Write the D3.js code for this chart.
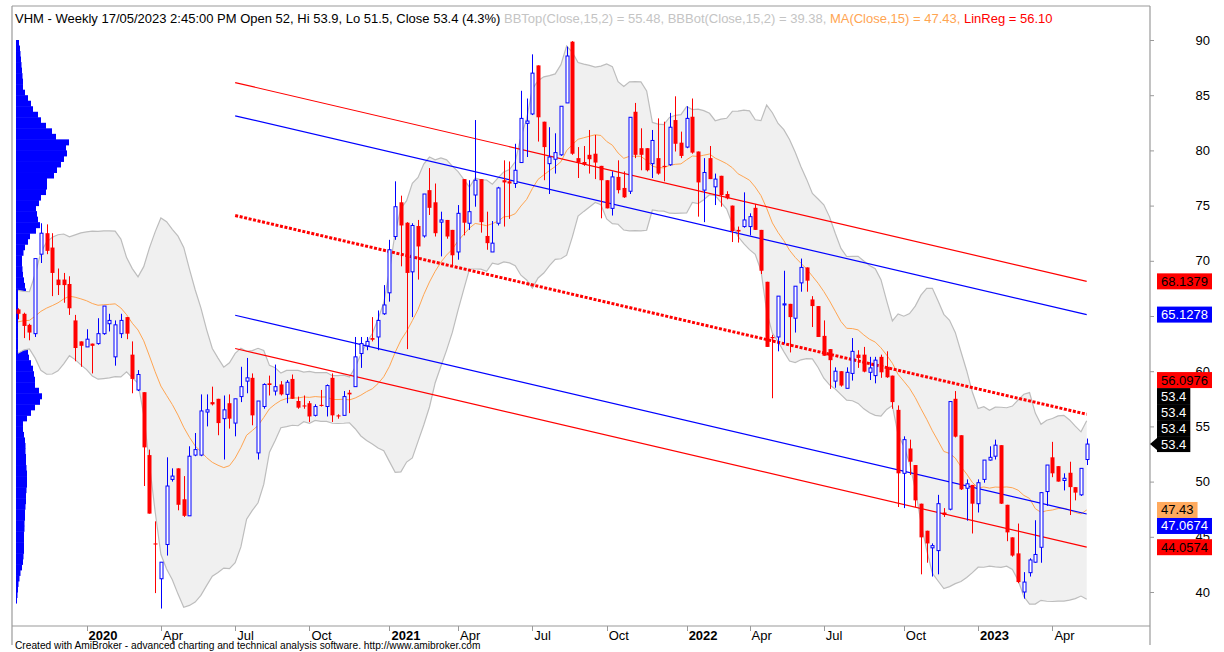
<!DOCTYPE html>
<html>
<head>
<meta charset="utf-8">
<script src="https://cdn.jsdelivr.net/npm/d3@7"></script>
<style>
body { margin: 0; background: #fff; }
svg { display: block; font-family: "Liberation Sans", Arial, sans-serif; }
</style>
</head>
<body>
<script>
var w = 1224, h = 652;
var plotL = 12, plotR = 1150, plotT = 6, plotB = 626;

// weekly VHM bars, Oct 2019 .. 17/05/2023
var open = [65.6,65.2,64.2,63.4,70.6,72.5,71.2,68.3,68.3,67.9,64.6,62.7,62.2,62.5,62.5,63.4,64.3,61.3,63.4,64.9,
  61.5,58.3,58.1,52.4,44.4,41.2,44.3,50.2,51.2,48.4,46.9,52.4,52.4,56.3,57.2,57.5,55.7,57.1,55.3,57.7,
  59.1,59.4,52.6,56.8,58.9,58.2,58.8,57.9,59.3,57.3,56.9,57.1,56.0,56.95,56.8,59.4,56.0,56.0,58.05,58.6,
  61.6,62.3,63.0,63.1,65.2,67.1,72.2,75.3,73.45,69.0,73.15,72.25,76.4,75.3,73.5,73.7,72.8,70.8,77.4,73.4,
  75.96,77.4,72.25,70.8,73.4,77.3,77.2,77.0,78.9,82.45,83.3,87.7,82.6,78.8,79.2,79.6,84.3,89.85,79.3,78.95,
  79.6,79.7,78.6,77.3,74.75,77.6,76.6,76.3,83.5,80.2,80.2,78.8,79.3,78.6,78.7,82.75,80.7,80.3,83.05,79.9,
  76.4,79.3,76.7,77.7,76.05,75.0,72.8,73.1,73.1,74.8,72.8,68.1,63.1,63.1,66.0,66.1,64.8,68.0,69.4,66.5,
  65.9,63.2,62.0,59.1,60.0,58.45,59.8,61.5,61.5,59.9,59.6,61.3,60.4,59.6,56.5,50.75,53.0,51.5,48.0,45.55,
  44.0,43.75,47.2,47.5,57.5,54.2,49.4,49.7,48.0,50.2,51.95,52.3,53.3,47.9,44.95,43.5,40.0,41.75,42.7,44.05,
  49.1,52.2,51.4,50.1,50.8,49.5,48.8,52];
var high = [65.7,65.3,64.3,70.2,73.4,73.3,72.5,69.3,68.9,68.6,65.1,62.7,63.8,62.5,64.8,65.9,65.2,64.6,65.2,64.9,
  62.7,60.1,58.1,52.9,46.4,42.7,52.2,51.2,51.2,50.5,53.2,54.4,57.9,57.9,58.6,57.5,57.8,57.9,57.5,60.4,
  61.2,59.8,57.3,58.9,59.6,60.6,59.1,59.2,59.7,57.7,57.8,57.3,57.0,58.3,58.8,59.8,56.1,58.2,58.3,63.1,
  63.1,63.1,64.9,65.5,67.8,71.9,77.2,75.9,73.5,73.4,73.7,76.05,78.4,77.0,74.45,73.7,72.8,75.05,77.4,77.3,
  82.75,77.4,74.45,73.6,76.7,79.1,79.0,80.6,85.4,84.7,88.7,87.7,82.6,82.1,81.55,84.0,89.4,89.9,80.3,80.4,
  81.85,81.4,78.6,77.3,78.1,79.1,78.1,83.0,84.3,82.0,80.2,81.85,82.9,82.6,83.4,84.9,81.7,84.0,84.7,79.9,
  79.3,80.4,77.9,77.7,76.3,75.0,73.1,76.2,74.3,75.15,72.8,68.1,63.3,66.8,69.1,66.1,67.7,70.2,69.4,66.8,
  65.9,64.6,62.0,60.35,60.0,60.35,63.0,61.9,62.2,61.3,61.3,61.5,61.8,59.6,56.9,54.1,53.8,51.5,48.0,45.55,
  44.4,48.8,47.6,57.3,58.2,54.2,50.2,49.7,50.2,51.95,53.2,53.8,53.3,47.9,44.95,46.2,41.8,43.05,46.5,49.0,
  51.5,53.6,51.4,50.75,51.8,49.5,51.2,53.9];
var low = [64.7,63.0,62.8,63.1,69.8,70.6,66.8,66.9,66.2,65.1,60.9,60.4,62.2,59.8,62.4,63.3,63.6,60.5,63.0,62.9,
  58.0,58.2,49.6,47.1,39.9,38.5,43.3,50.0,47.4,46.8,46.9,52.3,52.3,55.0,56.9,54.2,52.0,54.8,54.1,57.2,
  58.0,55.1,52.0,56.6,57.8,57.8,57.8,57.1,57.5,56.6,56.6,55.4,55.9,56.8,55.9,55.4,55.7,56.0,56.2,58.6,
  60.3,61.9,62.7,61.9,65.1,66.3,71.9,69.5,62.0,64.9,68.3,72.1,74.15,72.2,70.4,72.0,69.6,70.1,72.3,72.8,
  74.9,72.55,71.0,70.8,73.2,73.1,73.8,76.6,78.9,79.4,83.2,80.8,77.3,76.05,77.9,79.5,84.3,79.6,77.5,78.6,
  77.9,77.4,73.85,74.75,74.1,76.1,75.7,76.05,79.3,78.2,78.1,77.5,77.8,77.2,78.6,79.9,79.3,80.2,79.7,74.0,
  73.5,77.4,75.05,74.9,75.57,71.7,71.65,73.0,72.3,72.8,68.8,62.2,57.55,61.8,62.5,61.7,63.5,67.2,67.2,64.0,
  63.1,61.4,58.4,58.5,58.6,58.45,59.15,60.3,59.9,59.2,58.9,59.4,59.4,56.6,47.7,47.6,50.6,47.7,41.6,42.65,
  41.4,41.6,46.8,47.4,54.0,49.24,46.46,45.3,47.2,49.9,51.9,52.0,47.97,44.6,43.2,40.8,39.4,41.4,42.65,42.65,
  47.8,50.4,50.0,49.2,46.97,48.3,48.7,51.5];
var close = [65.2,64.1,63.5,70.2,72.5,70.9,68.9,67.8,67.8,65.7,62.1,62.3,62.9,62.3,63.4,65.9,64.6,64.2,64.6,63.4,
  59.3,59.7,53.1,47.1,44.3,42.7,49.6,50.5,47.9,46.9,52.3,52.9,56.4,56.5,57.0,55.3,56.5,55.7,57.5,58.6,
  59.4,56.0,57.3,58.8,58.75,58.6,57.9,59.0,57.5,56.7,56.8,55.9,56.8,56.85,58.7,56.0,55.9,57.7,57.9,61.3,
  62.5,62.7,62.85,64.6,66.0,71.0,74.9,73.2,68.9,73.2,71.3,76.05,74.8,72.5,73.7,72.2,70.5,74.3,73.45,74.45,
  77.3,73.5,71.6,71.6,76.6,77.1,77.0,78.2,82.9,82.66,87.0,83.0,80.3,79.4,79.8,84.0,88.55,79.7,78.9,78.7,
  79.2,78.9,77.3,74.75,77.6,76.4,75.75,83.0,79.6,79.6,78.2,80.9,77.9,78.5,82.1,80.6,79.5,82.9,79.8,77.1,
  78.0,77.4,77.4,75.96,75.66,72.7,72.65,73.7,74.0,72.8,69.1,62.2,62.98,66.8,66.1,64.9,67.7,69.4,68.2,65.9,
  63.1,61.4,61.0,60.0,58.7,59.9,61.8,61.2,59.96,60.3,61.0,59.9,59.45,57.2,50.75,53.8,51.8,48.3,44.95,44.4,
  44.2,48.0,46.97,57.25,54.07,49.3,49.8,48.0,49.9,51.95,52.2,53.3,48.0,45.4,43.3,40.9,40.9,42.9,43.4,49.0,
  51.5,50.75,50.0,50.3,49.5,49.0,51.2,53.4];
// closes of the 14 weeks before the first bar (estimated from the band at the left edge)
var warmupClose = [62.5,63.0,64.5,66.0,66.5,65.5,64.0,62.5,62.0,63.5,64.5,65.5,66.0,65.8];

var tickBar = [12,25,38,51,65,77,90,103,117,128,141,155,168,181];
var tickLabel = ["2020","Apr","Jul","Oct","2021","Apr","Jul","Oct","2022","Apr","Jul","Oct","2023","Apr"];
var priceTicks = [40,45,50,55,60,65,70,75,80,85,90];

// linear regression channel
var regBars = [38, 187];
var regMid = [74.1, 56.0976];
var regBand = [-12.0403, -9.0302, 0, 9.0302, 12.0403];
var regColor = ["#ff0000", "#0000ff", "#ff0000", "#0000ff", "#ff0000"];

// volume at price, 0.5 bins from 39.0 up
var profileBase = 39, profileStep = 0.5;
var profileVol = [1,1.5,2,2.5,3.5,4.5,6,7,7.5,8,8,8,8,8.5,8.5,9,9,9.5,10,10,10.5,11,11,11,10.5,10,10,9.5,9.5,9,
  8,7,7,11,15,19,24,26,23,19,19,18,17,15,13,12,12,13,13,14,14,13,13,12,11,10,10,9,8,7,
  6.5,6,6,7.5,9,12,14,20,24,22,21,20,23,25,30,31,31,38,41,45,48,51,50,53,40,36,30,25,22,17,
  15,12,9,7,7,6.5,6,5.5,5,4.5,4,3];

// price tags on the axis
var tagValue = [53.4,53.4,53.4,53.4,68.1379,65.1278,47.43,44.0574,56.0976,47.0674];
var tagKind = ["close","close","close","close","red","blue","ma","red","red","blue"];
var tagFill = {close: "#000000", red: "#ff0000", blue: "#0000ff", ma: "#ffaa5e"};
var tagInk = {close: "#ffffff", red: "#000000", blue: "#ffffff", ma: "#000000"};

var x = d3.scaleLinear().domain([0, 187]).range([18, 1086.7]);
var y = d3.scaleLinear().domain([36.92, 93.08]).range([plotB, plotT]);
var pw = d3.scaleLinear().domain([0, 60]).range([0, 60]);

var svg = d3.select("body").append("svg").attr("width", w).attr("height", h);

svg.append("clipPath").attr("id", "plot")
  .append("rect").attr("x", plotL).attr("y", plotT).attr("width", plotR - plotL).attr("height", plotB - plotT);

var g = svg.append("g").attr("clip-path", "url(#plot)");

// bollinger + MA
var all = warmupClose.concat(close);
var n0 = warmupClose.length;
var ma = [], bbTop = [], bbBot = [];
close.forEach(function(c, i) {
  var win = all.slice(i + n0 - 14, i + n0 + 1);
  var m = d3.mean(win);
  var sd = Math.sqrt(d3.mean(win, function(v) { return (v - m) * (v - m); }));
  ma.push(m); bbTop.push(m + 2 * sd); bbBot.push(m - 2 * sd);
});

// profile
g.append("g").selectAll("rect")
  .data(profileVol)
  .enter().append("rect")
  .attr("x", 16)
  .attr("y", function(d, i) { return y(profileBase + (i + 1) * profileStep); })
  .attr("width", function(d) { return pw(d); })
  .attr("height", function(d, i) { return y(profileBase + i * profileStep) - y(profileBase + (i + 1) * profileStep) + 0.5; })
  .attr("fill", "#0000ff");

var idx = d3.range(close.length);
g.append("path")
  .attr("d", d3.area().x(function(i) { return x(i); }).y0(function(i) { return y(bbBot[i]); }).y1(function(i) { return y(bbTop[i]); })(idx))
  .attr("fill", "#f0f0f0");
[bbTop, bbBot].forEach(function(s) {
  g.append("path")
    .attr("d", d3.line().x(function(i) { return x(i); }).y(function(i) { return y(s[i]); })(idx))
    .attr("fill", "none").attr("stroke", "#bdbdbd").attr("stroke-width", 1.2);
});
g.append("path")
  .attr("d", d3.line().x(function(i) { return x(i); }).y(function(i) { return y(ma[i]); })(idx))
  .attr("fill", "none").attr("stroke", "#ffa552").attr("stroke-width", 1);

// regression channel
regBand.forEach(function(off, k) {
  var ln = g.append("line")
    .attr("x1", x(regBars[0])).attr("y1", y(regMid[0] + off))
    .attr("x2", x(regBars[1])).attr("y2", y(regMid[1] + off))
    .attr("stroke", regColor[k]);
  if (off === 0) ln.attr("stroke-width", 3).attr("stroke-dasharray", "3,1.6");
  else ln.attr("stroke-width", 1.2);
});

// candles
var candles = g.append("g").selectAll("g")
  .data(idx)
  .enter().append("g");
candles.append("line")
  .attr("x1", function(i) { return Math.round(x(i)) + 0.5; })
  .attr("x2", function(i) { return Math.round(x(i)) + 0.5; })
  .attr("y1", function(i) { return y(high[i]); })
  .attr("y2", function(i) { return y(low[i]); })
  .attr("stroke", function(i) { return close[i] >= open[i] ? "#0000ff" : "#ff0000"; });
candles.append("rect")
  .attr("x", function(i) { return close[i] >= open[i] ? Math.round(x(i)) - 1 : Math.round(x(i)) - 1.5; })
  .attr("y", function(i) { return y(Math.max(open[i], close[i])); })
  .attr("width", function(i) { return close[i] >= open[i] ? 3 : 4; })
  .attr("height", function(i) { return Math.max(1, y(Math.min(open[i], close[i])) - y(Math.max(open[i], close[i]))); })
  .attr("fill", function(i) { return close[i] >= open[i] ? "#ffffff" : "#ff0000"; })
  .attr("stroke", function(i) { return close[i] >= open[i] ? "#0000ff" : "none"; });

// frame
var frame = svg.append("g").attr("stroke", "#9a9a9a").attr("stroke-width", 1.2);
frame.append("line").attr("x1", plotL).attr("x2", plotR).attr("y1", plotT).attr("y2", plotT);
frame.append("line").attr("x1", plotL).attr("x2", plotR).attr("y1", plotB).attr("y2", plotB);
frame.append("line").attr("x1", plotL).attr("x2", plotL).attr("y1", plotT).attr("y2", 645);
frame.append("line").attr("x1", plotR).attr("x2", plotR).attr("y1", plotT).attr("y2", 645);

// price axis
var ya = svg.append("g").attr("transform", "translate(" + plotR + ",0)")
  .call(d3.axisRight(y).tickValues(priceTicks).tickSize(4).tickPadding(0).tickFormat(d3.format("d")));
ya.select(".domain").remove();
ya.selectAll("line").attr("stroke", "#9a9a9a");
ya.selectAll("text").attr("x", 60).attr("text-anchor", "end")
  .attr("font-family", "Liberation Sans, Arial, sans-serif").attr("font-size", 13).attr("fill", "#000");

// time axis
var ta = svg.append("g");
tickBar.forEach(function(b, k) {
  ta.append("line").attr("x1", Math.round(x(b)) + 0.5).attr("x2", Math.round(x(b)) + 0.5)
    .attr("y1", plotB).attr("y2", plotB + 5).attr("stroke", "#9a9a9a");
  ta.append("text").attr("x", x(b) + 2).attr("y", 640)
    .attr("font-size", 13)
    .attr("font-weight", /^\d+$/.test(tickLabel[k]) ? "bold" : "normal")
    .text(tickLabel[k]);
});

// price tags
var tagH = 16, placed = [];
tagValue.forEach(function(v, i) {
  var cy = y(v), moved = true;
  while (moved) {
    moved = false;
    placed.forEach(function(p) {
      if (Math.abs(p.cy - cy) < tagH) {
        cy = v >= p.v ? p.cy - tagH : p.cy + tagH;
        moved = true;
      }
    });
  }
  placed.push({v: v, cy: cy, kind: tagKind[i], first: i === 0});
});
var tg = svg.append("g");
placed.forEach(function(p) {
  var t = tg.append("g");
  var r = t.append("rect").attr("x", 1157).attr("y", p.cy - tagH / 2).attr("height", tagH).attr("fill", tagFill[p.kind]);
  var tx = t.append("text").attr("x", 1161).attr("y", p.cy + 4.5).attr("font-size", 13)
    .attr("fill", tagInk[p.kind]).text(String(p.v));
  r.attr("width", tx.node().getComputedTextLength() + 8);
  if (p.first) {
    t.append("path").attr("d", "M1150," + p.cy + "L1157," + (p.cy - 6) + "L1157," + (p.cy + 6) + "Z").attr("fill", tagFill[p.kind]);
  }
});

// header
var hd = svg.append("text").attr("x", 15).attr("y", 23).attr("font-size", 13);
hd.append("tspan").attr("fill", "#000").text("VHM - Weekly 17/05/2023 2:45:00 PM Open 52, Hi 53.9, Lo 51.5, Close 53.4 (4.3%) ");
hd.append("tspan").attr("fill", "#c4c4c4").text("BBTop(Close,15,2) = 55.48, ");
hd.append("tspan").attr("fill", "#c4c4c4").text("BBBot(Close,15,2) = 39.38, ");
hd.append("tspan").attr("fill", "#ffa552").text("MA(Close,15) = 47.43, ");
hd.append("tspan").attr("fill", "#ff0000").text("LinReg = 56.10");

svg.append("text").attr("x", 15).attr("y", 649).attr("font-size", 10.2).attr("fill", "#000")
  .text("Created with AmiBroker - advanced charting and technical analysis software. http://www.amibroker.com");
</script>
</body>
</html>
